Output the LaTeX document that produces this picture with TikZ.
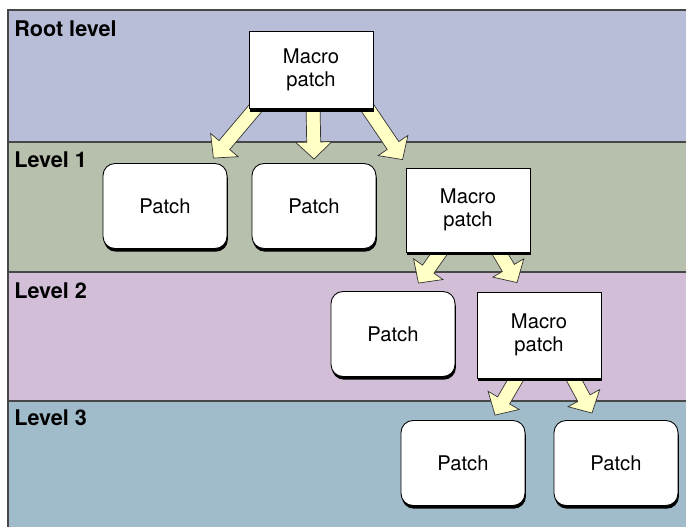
\documentclass[tikz,border=0pt]{standalone}
\usepackage{fontspec}
\setmainfont{TeX Gyre Heros}
\usetikzlibrary{calc,shadows}

\pgfdeclarelayer{bands}
\pgfdeclarelayer{arrows}
\pgfsetlayers{bands,arrows,main}

\definecolor{rootband}{HTML}{B8BDD8}
\definecolor{levelone}{HTML}{B7BFAD}
\definecolor{leveltwo}{HTML}{D3BED7}
\definecolor{levelthree}{HTML}{A0BCCA}
\definecolor{arrowfill}{HTML}{FFFFC6}

% block arrow from #1 to #2 (tip), drawn under the boxes
\newcommand\flowarrow[2]{%
  \coordinate (fa-s) at (#1);
  \coordinate (fa-t) at (#2);
  \coordinate (fa-h) at ($(fa-t)!0.34cm!(fa-s)$);
  \filldraw[fill=arrowfill, draw=black!80, line width=0.4pt, line join=miter]
    ($(fa-s)!0.14cm!90:(fa-t)$) -- ($(fa-h)!0.14cm!-90:(fa-s)$)
    -- ($(fa-h)!0.36cm!-90:(fa-s)$) -- (fa-t)
    -- ($(fa-h)!0.36cm!90:(fa-s)$) -- ($(fa-h)!0.14cm!90:(fa-s)$)
    -- ($(fa-s)!0.14cm!-90:(fa-t)$) -- cycle;
}

\tikzset{
  band/.style={draw=black!72, line width=0.85pt},
  levellabel/.style={anchor=west, font=\bfseries\fontsize{12.3}{14}\selectfont, inner sep=0pt},
  boxshadow/.style={drop shadow={shadow xshift=0.5pt, shadow yshift=-1.8pt, fill=black, opacity=1}},
  patchbox/.style={draw=black, line width=0.5pt, fill=white, rounded corners=0.24cm,
    minimum width=2.48cm, minimum height=1.7cm, boxshadow,
    font=\fontsize{11.5}{13}\selectfont},
  macrobox/.style={draw=black, line width=0.5pt, fill=white,
    minimum width=2.48cm, minimum height=1.68cm, boxshadow, align=center,
    font=\fontsize{11.5}{13.2}\selectfont},
}

\begin{document}
\begin{tikzpicture}[x=0.02cm, y=-0.02cm]
	\useasboundingbox (0,0) rectangle (686,527);
	% level bands, open at the right and bottom
	\begin{pgfonlayer}{bands}
		\filldraw[band, fill=rootband] (8,10) rectangle (700,142);
		\filldraw[band, fill=levelone] (8,142) rectangle (700,272);
		\filldraw[band, fill=leveltwo] (8,272) rectangle (700,401);
		\filldraw[band, fill=levelthree] (8,401) rectangle (700,540);
	\end{pgfonlayer}
	\node[levellabel] (lroot) at (14,29) {Root level};
	\node[levellabel] (lone) at (14,160) {Level 1};
	\node[levellabel] (ltwo) at (14,291) {Level 2};
	\node[levellabel] (lthree) at (14,418) {Level 3};
	% patches, level by level
	\node[macrobox, minimum height=1.54cm] (root) at (311,70) {Macro\\patch};
	\node[patchbox] (l1a) at (165,206) {Patch};
	\node[patchbox] (l1b) at (314,206) {Patch};
	\node[macrobox] (l1m) at (468,210) {Macro\\patch};
	\node[patchbox] (l2a) at (393,334) {Patch};
	\node[macrobox, minimum height=1.72cm] (l2m) at (539,335) {Macro\\patch};
	\node[patchbox] (l3a) at (463,463) {Patch};
	\node[patchbox] (l3b) at (616,463) {Patch};
	% arrows from each macro patch to its children
	\begin{pgfonlayer}{arrows}
		\flowarrow{$(root.south west)+(13,-8)$}{$(l1a.north east)+(-14,-5)$}
		\flowarrow{$(root.south)+(2,-5)$}{$(l1b.north)+(0,-4)$}
		\flowarrow{$(root.south east)+(-12,-10)$}{$(l1m.north west)+(-3,-8)$}
		\flowarrow{$(l1m.south)+(-23,-7)$}{$(l2a.north east)+(-37,-8)$}
		\flowarrow{$(l1m.south)+(27,-7)$}{$(l2m.north)+(-22,-9)$}
		\flowarrow{$(l2m.south)+(-19,-6)$}{$(l3a.north)+(32,-5)$}
		\flowarrow{$(l2m.south)+(31,-6)$}{$(l3b.north)+(-24,-7)$}
	\end{pgfonlayer}
\end{tikzpicture}
\end{document}
